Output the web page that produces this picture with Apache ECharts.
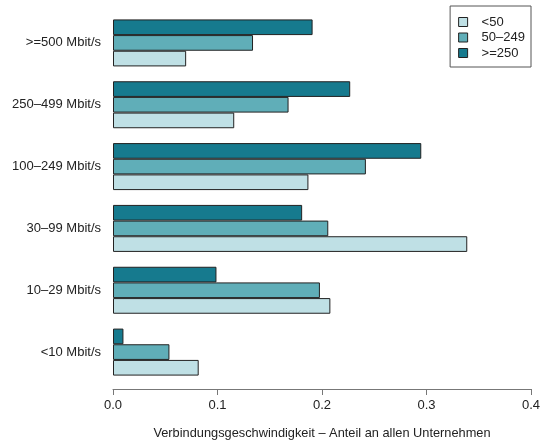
<!DOCTYPE html>
<html><head><meta charset="utf-8">
<script src="https://cdn.jsdelivr.net/npm/echarts@6/dist/echarts.min.js"></script>
<style>html,body{margin:0;padding:0;background:#fff}#c{width:545px;height:440px}</style>
</head><body><div id="c"></div>
<script>
var categories = ['<10 Mbit/s','10–29 Mbit/s','30–99 Mbit/s','100–249 Mbit/s','250–499 Mbit/s','>=500 Mbit/s'];
var seriesNames = ['<50','50–249','>=250'];
var small = [0.082, 0.208, 0.339, 0.187, 0.116, 0.070];
var medium = [0.054, 0.198, 0.206, 0.242, 0.168, 0.134];
var large = [0.010, 0.099, 0.181, 0.295, 0.227, 0.191];
var colors = ['#bfe0e5','#60aeb8','#167a8e'];
var values = [small, medium, large];
var font = 'Liberation Sans, Arial, sans-serif';
var chart = echarts.init(document.getElementById('c'), null, {renderer:'canvas'});
var order = [2,1,0];
chart.setOption({
  animation:false,
  textStyle:{fontFamily:font},
  grid:{left:113, right:14, top:12, bottom:57, containLabel:false, outerBoundsMode:'none'},
  legend:{
    orient:'vertical', right:14, top:6,
    icon:'rect',
    itemWidth:9, itemHeight:9, itemGap:1.5,
    borderColor:'#555', borderWidth:1, borderRadius:0,
    padding:[9,6,7,8],
    textStyle:{fontSize:13, lineHeight:14, color:'#222', fontFamily:font, padding:[0,0,0,9]},
    data:seriesNames.map(function(n,i){return {name:n, icon:'rect', itemStyle:{color:colors[i], borderColor:'#222', borderWidth:1}};})
  },
  xAxis:{
    type:'value', min:0, max:0.4, interval:0.1,
    offset:6,
    axisLine:{show:true, lineStyle:{color:'#777', width:1}},
    axisTick:{show:true, length:6, lineStyle:{color:'#777'}},
    splitLine:{show:false},
    axisLabel:{fontSize:13, color:'#222', margin:10, formatter:function(v){return v.toFixed(1);}},
    name:'Verbindungsgeschwindigkeit – Anteil an allen Unternehmen',
    nameLocation:'middle', nameGap:38,
    nameTextStyle:{fontSize:12.8, color:'#222', fontFamily:font}
  },
  yAxis:{
    type:'category', data:categories,
    axisLine:{show:false}, axisTick:{show:false},
    axisLabel:{fontSize:13, color:'#222', margin:12}
  },
  series:order.map(function(i){
    return {
      name:seriesNames[i], type:'bar', data:values[i],
      barGap:'0%', barCategoryGap:'24%',
      itemStyle:{color:colors[i], borderColor:'#222', borderWidth:1}
    };
  })
});
</script></body></html>
